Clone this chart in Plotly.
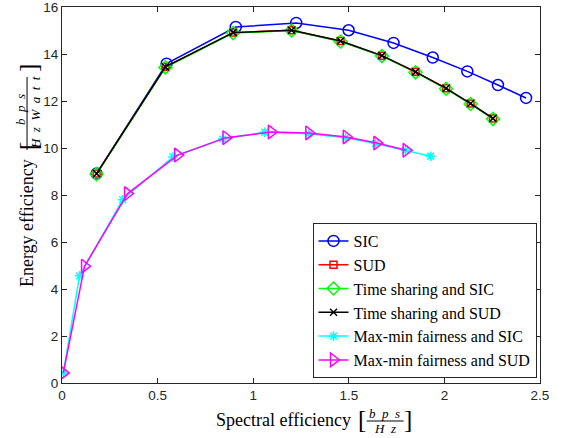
import plotly.graph_objects as go

# ---- data ----
sic_x = [0.181, 0.547, 0.909, 1.225, 1.499, 1.734, 1.939, 2.12, 2.28, 2.427]
sic_y = [8.91, 13.59, 15.15, 15.32, 15.01, 14.47, 13.85, 13.26, 12.68, 12.13]

sud_x = [0.181, 0.541, 0.895, 1.201, 1.457, 1.673, 1.849, 2.009, 2.137, 2.254]
sud_y = [8.91, 13.45, 14.91, 15.01, 14.55, 13.93, 13.24, 12.54, 11.89, 11.26]

ts_sic_x = [0.181, 0.541, 0.895, 1.201, 1.457, 1.673, 1.849, 2.009, 2.137, 2.254]
ts_sic_y = [8.89, 13.43, 14.89, 15.0, 14.53, 13.91, 13.22, 12.52, 11.87, 11.24]

ts_sud_x = [0.181, 0.541, 0.895, 1.201, 1.457, 1.673, 1.849, 2.009, 2.137, 2.254]
ts_sud_y = [8.91, 13.45, 14.91, 15.01, 14.55, 13.93, 13.24, 12.54, 11.89, 11.26]

mm_sic_x = [0.007, 0.092, 0.317, 0.58, 0.84, 1.06, 1.291, 1.483, 1.64, 1.796, 1.928]
mm_sic_y = [0.43, 4.56, 7.8, 9.62, 10.38, 10.67, 10.61, 10.44, 10.19, 9.9, 9.65]

mm_sud_x = [0.007, 0.118, 0.343, 0.605, 0.858, 1.095, 1.291, 1.487, 1.647, 1.8]
mm_sud_y = [0.43, 4.97, 8.06, 9.7, 10.44, 10.68, 10.64, 10.47, 10.21, 9.9]

x_ticks = [0, 0.5, 1, 1.5, 2, 2.5]
y_ticks = [0, 2, 4, 6, 8, 10, 12, 14, 16]

# ---- layout geometry (pixels) ----
W, H = 562, 438
L, R, T, B = 62, 21.5, 7, 55
PW = W - L - R
PH = H - T - B


def px(x):
    return (x - L) / PW


def py(y):
    return (H - B - y) / PH


SERIF = "'Liberation Serif', 'Times New Roman', Times, serif"
SANS = "'Liberation Sans', Arial, Helvetica, sans-serif"
AX = "#262626"

fig = go.Figure()

series = [
    ("SIC", sic_x, sic_y, "#0000FF", "circle-open", 11),
    ("SUD", sud_x, sud_y, "#FF0000", "square-open", 7),
    ("Time sharing and SIC", ts_sic_x, ts_sic_y, "#00FF00", "diamond-open", 10),
    ("Time sharing and SUD", ts_sud_x, ts_sud_y, "#000000", "x-thin-open", 7),
    ("Max-min fairness and SIC", mm_sic_x, mm_sic_y, "#00FFFF", "asterisk-open", 8),
    ("Max-min fairness and SUD", mm_sud_x, mm_sud_y, "#FF00FF", "triangle-right-open", 12),
]

for name, xs, ys, col, sym, sz in series:
    fig.add_trace(go.Scatter(
        x=xs, y=ys, name=name, mode="lines+markers",
        line=dict(color=col, width=1.5),
        marker=dict(symbol=sym, size=sz, color=col,
                    line=dict(color=col, width=1.5)),
    ))

axis_common = dict(
    showline=True, linecolor=AX, linewidth=1, mirror="ticks",
    ticks="inside", ticklen=5, tickcolor=AX, tickwidth=1,
    showgrid=False, zeroline=False, ticklabeloverflow="allow",
    automargin=False,
    tickfont=dict(family=SANS, size=13.5, color=AX),
)

fig.update_xaxes(range=[0, 2.5], tickvals=x_ticks,
                 ticktext=[f"{v:g}" for v in x_ticks], **axis_common)
fig.update_yaxes(range=[0, 16], tickvals=y_ticks,
                 ticktext=[f"{v:g}" for v in y_ticks], **axis_common)

ann = []
# x-axis label
ann.append(dict(text="Spectral efficiency", x=px(284), y=py(420),
                font=dict(family=SERIF, size=18, color="black")))
ann.append(dict(text="[", x=px(362), y=py(419),
                font=dict(family=SERIF, size=25, color="black")))
ann.append(dict(text="<i>b\u2002p\u2002s</i>", x=px(385), y=py(413),
                font=dict(family=SERIF, size=13, color="black")))
ann.append(dict(text="<i>H\u2002z</i>", x=px(385), y=py(428),
                font=dict(family=SERIF, size=13, color="black")))
ann.append(dict(text="]", x=px(408), y=py(419),
                font=dict(family=SERIF, size=25, color="black")))
# y-axis label
ann.append(dict(text="Energy efficiency", x=px(27), y=py(223), textangle=-90,
                font=dict(family=SERIF, size=18, color="black")))
ann.append(dict(text="[", x=px(28), y=py(146), textangle=-90,
                font=dict(family=SERIF, size=25, color="black")))
ann.append(dict(text="<i>b\u2002p\u2002s</i>", x=px(20), y=py(110), textangle=-90,
                font=dict(family=SERIF, size=13, color="black")))
ann.append(dict(text="<i>H\u2002z\u2002W\u2002a\u2002t\u2002t</i>", x=px(35), y=py(113),
                textangle=-90, font=dict(family=SERIF, size=13, color="black")))
ann.append(dict(text="]", x=px(28), y=py(68), textangle=-90,
                font=dict(family=SERIF, size=25, color="black")))

for a in ann:
    a.update(xref="paper", yref="paper", showarrow=False,
             xanchor="center", yanchor="middle")

shapes = [
    dict(type="line", xref="paper", yref="paper",
         x0=px(367), x1=px(404), y0=py(421), y1=py(421),
         line=dict(color="black", width=1)),
    dict(type="line", xref="paper", yref="paper",
         x0=px(27), x1=px(27), y0=py(77), y1=py(150),
         line=dict(color="black", width=1)),
]

fig.update_layout(
    width=W, height=H,
    margin=dict(l=L, r=R, t=T, b=B, pad=0, autoexpand=False),
    plot_bgcolor="white", paper_bgcolor="white",
    annotations=ann, shapes=shapes,
    legend=dict(
        x=px(537), y=py(378), xanchor="right", yanchor="bottom",
        bgcolor="white", bordercolor=AX, borderwidth=1,
        font=dict(family=SERIF, size=16, color="black"),
        tracegroupgap=0,
    ),
    showlegend=True,
)

fig.write_html("out.html")
